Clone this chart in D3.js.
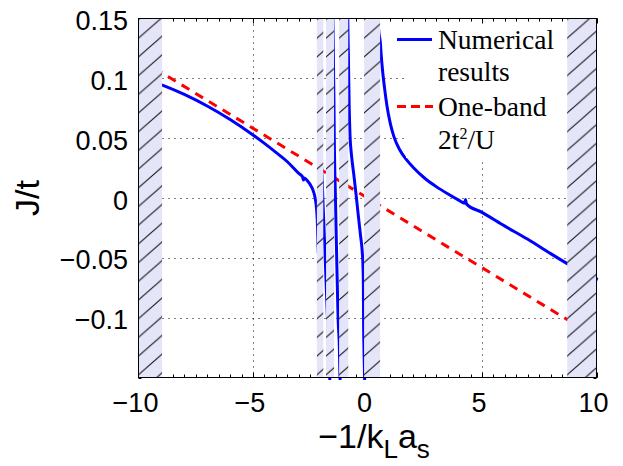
<!DOCTYPE html>
<html><head><meta charset="utf-8">
<script src="https://cdn.jsdelivr.net/npm/d3@7"></script>
<style>body{margin:0;background:#fff}</style>
</head><body><svg id="c" width="623" height="466"></svg>
<script>
// ---- data ----
const xTicks=[-10,-5,0,5,10];
const xTickLabels=["−10","−5","0","5","10"];
const yTicks=[0.15,0.1,0.05,0,-0.05,-0.1];
const yTickLabels=["0.15","0.1","0.05","0","−0.05","−0.1"];
const bandStart=[-10,-2.21,-1.81,-1.24,-0.15,8.72];
const bandEnd=[-8.97,-1.93,-1.46,-0.84,0.55,10];

const blue1X=[-9.2,-8.96,-8,-7,-6,-5,-4.5,-4,-3.5,-3.0,-2.84,-2.80,-2.76,-2.6,-2.5,-2.4,-2.3,-2.25,-2.22,-2.19,-2.15];
const blue1Y=[0.0961,0.0944,0.0866,0.0769,0.0656,0.0527,0.0456,0.0381,0.0303,0.0205,0.0178,0.0150,0.0168,0.0138,0.0112,0.0075,0.0012,-0.0045,-0.0100,-0.0200,-0.0450];
const blue2X=[-2.0,-1.93,-1.82,-1.65,-1.60];
const blue2Y=[0.025,-0.010,-0.064,-0.150,-0.175];
const blue3X=[-1.52,-1.49,-1.475,-1.465,-1.45,-1.40,-1.345,-1.30,-1.275,-1.25,-1.24,-1.20,-1.15];
const blue3Y=[0.16,0.12,0.095,0.08,0.05,0.0,-0.05,-0.088,-0.105,-0.114,-0.118,-0.15,-0.17];
const blue4X=[-0.87,-0.855,-0.845,-0.835,-0.82,-0.80,-0.764,-0.70,-0.60,-0.50,-0.40,-0.30,-0.23,-0.195,-0.18,-0.172,-0.15,-0.11];
const blue4Y=[0.165,0.142,0.130,0.120,0.100,0.077,0.0526,0.036,0.020,0.003,-0.015,-0.032,-0.045,-0.058,-0.075,-0.100,-0.13,-0.165];
const blue5X=[0.40,0.46,0.50,0.56,0.60,0.65,0.75,0.85,1.0,1.15,1.4,1.7,2.0,2.5,3.0,3.5,4.0,4.24,4.28,4.32,5.0,6.0,7.0,8.0,8.7,10];
const blue5Y=[0.16,0.147,0.138,0.130,0.119,0.108,0.091,0.077,0.062,0.0515,0.0405,0.032,0.0255,0.0165,0.0095,0.0035,-0.0020,-0.0044,-0.0012,-0.0049,-0.0120,-0.0235,-0.0345,-0.0465,-0.0546,-0.0676];
const redX=[-10,10];
const redY=[0.1165,-0.1165];
const legendLines=[["Numerical","results"],["One-band","2t"]];

// ---- layout ----
const L=138.5,R=596.5,T=18.5,B=377.5;
const svg=d3.select("#c");
const x=d3.scaleLinear().domain([-10,10]).range([L,R]);
const y=d3.scaleLinear().domain([-0.15,0.15]).range([B,T]);
const sans="'Liberation Sans',Arial,Helvetica,sans-serif";
const serif="'Liberation Serif','Times New Roman',serif";
const defs=svg.append("defs");
defs.append("clipPath").attr("id","clipLines").append("rect")
  .attr("x",L).attr("y",T).attr("width",R-L+2).attr("height",B-T+2.5);

// gridlines
const grid=svg.append("g").attr("stroke","#000").attr("stroke-width",1).attr("stroke-dasharray","1,5");
grid.selectAll(".gx").data(xTicks.slice(1,-1)).join("line")
  .attr("x1",d=>Math.round(x(d))+0.5).attr("x2",d=>Math.round(x(d))+0.5).attr("y1",T).attr("y2",B);
grid.selectAll(".gy").data(yTicks.slice(1)).join("line")
  .attr("y1",d=>Math.round(y(d))+0.5).attr("y2",d=>Math.round(y(d))+0.5).attr("x1",L).attr("x2",R);

// ticks (inward, all four sides)
const tk=svg.append("g").attr("stroke","#000").attr("stroke-width",1);
const xMinor=d3.range(-10,10.001,0.5), yMinor=d3.range(-15,15.01,1).map(v=>v/100);
function xt(vals,len){vals.forEach(v=>{const px=Math.round(x(v))+0.5;
  tk.append("line").attr("x1",px).attr("x2",px).attr("y1",B).attr("y2",B-len);
  tk.append("line").attr("x1",px).attr("x2",px).attr("y1",T).attr("y2",T+len);});}
function yt(vals,len){vals.forEach(v=>{const py=Math.round(y(v))+0.5;
  tk.append("line").attr("y1",py).attr("y2",py).attr("x1",L).attr("x2",L+len);
  tk.append("line").attr("y1",py).attr("y2",py).attr("x1",R).attr("x2",R-len);});}
xt(xMinor,3); xt(xTicks,5); yt(yMinor,3); yt(yTicks,5);

// curves
const lineGen=d3.line().x(d=>x(d[0])).y(d=>y(d[1])).curve(d3.curveMonotoneX);
const curves=svg.append("g").attr("clip-path","url(#clipLines)");
curves.append("path").datum(d3.zip(redX,redY)).attr("d",lineGen)
  .attr("fill","none").attr("stroke","#ff0000").attr("stroke-width",3)
  .attr("stroke-dasharray","9,7").attr("stroke-dashoffset",13.5);
[[blue1X,blue1Y],[blue2X,blue2Y],[blue3X,blue3Y],[blue4X,blue4Y],[blue5X,blue5Y]].forEach(([xs,ys])=>{
  curves.append("path").datum(d3.zip(xs,ys)).attr("d",lineGen)
    .attr("fill","none").attr("stroke","#0000ff").attr("stroke-width",3)
    .attr("stroke-linejoin","round").attr("stroke-linecap","square");
});

// hatched bands
const hh=18.7, ww=hh/0.88;
const bands=d3.zip(bandStart,bandEnd);
bands.forEach((b,i)=>{
  const p=defs.append("pattern").attr("id","h"+i).attr("patternUnits","userSpaceOnUse")
    .attr("width",ww).attr("height",hh)
    .attr("patternTransform",`translate(${x(b[0])},${T+1})`);
  p.append("rect").attr("width",ww).attr("height",hh).attr("fill","#e5e5fa");
  let dstr="";
  [-1,0,1].forEach(n=>{dstr+=`M${-ww},${2*hh+n*hh}L${2*ww},${-hh+n*hh}`;});
  p.append("path").attr("d",dstr).attr("stroke","#111").attr("stroke-width",1).attr("fill","none");
});
svg.append("g").selectAll("rect").data(bands).join("rect")
  .attr("x",d=>x(d[0])).attr("width",d=>x(d[1])-x(d[0]))
  .attr("y",T).attr("height",B-T).attr("fill",(d,i)=>`url(#h${i})`);

// frame
svg.append("rect").attr("x",L).attr("y",T).attr("width",R-L).attr("height",B-T)
  .attr("fill","none").attr("stroke","#000").attr("stroke-width",1);

// tick labels
svg.append("g").selectAll("text").data(xTicks).join("text")
  .attr("x",d=>x(d)-3).attr("y",412).attr("text-anchor","middle")
  .attr("font-family",sans).attr("font-size",27).text((d,i)=>xTickLabels[i]);
svg.append("g").selectAll("text").data(yTicks).join("text")
  .attr("x",128).attr("y",d=>y(d)+11.5).attr("text-anchor","end")
  .attr("font-family",sans).attr("font-size",27).text((d,i)=>yTickLabels[i]);

// axis labels
const xl=svg.append("text").attr("x",374).attr("y",448).attr("text-anchor","middle")
  .attr("font-family",sans).attr("font-size",34);
xl.append("tspan").text("−1/k");
xl.append("tspan").attr("dy",10).attr("font-size",26).text("L");
xl.append("tspan").attr("dy",-10).text("a");
xl.append("tspan").attr("dy",10).attr("font-size",26).text("s");
svg.append("text").attr("transform","translate(39,198) rotate(-90)")
  .attr("text-anchor","middle").attr("font-family",sans).attr("font-size",34).text("J/t");

// legend
const lg=svg.append("g");
lg.append("rect").attr("x",406).attr("y",24).attr("width",160).attr("height",134).attr("fill","#fff");
lg.append("line").attr("x1",397).attr("x2",432).attr("y1",39.5).attr("y2",39.5)
  .attr("stroke","#0000ff").attr("stroke-width",3);
lg.append("line").attr("x1",397).attr("x2",433).attr("y1",106.5).attr("y2",106.5)
  .attr("stroke","#ff0000").attr("stroke-width",3).attr("stroke-dasharray","9,5");
const lt=lg.append("g").attr("font-family",serif).attr("font-size",27.5).attr("fill","#000");
lt.append("text").attr("x",438).attr("y",49).text(legendLines[0][0]);
lt.append("text").attr("x",438).attr("y",81).text(legendLines[0][1]);
lt.append("text").attr("x",438).attr("y",116).text(legendLines[1][0]);
const l4=lt.append("text").attr("x",438).attr("y",149);
l4.append("tspan").text(legendLines[1][1]);
l4.append("tspan").attr("dy",-10).attr("font-size",16).text("2");
l4.append("tspan").attr("dy",10).text("/U");
</script></body></html>
